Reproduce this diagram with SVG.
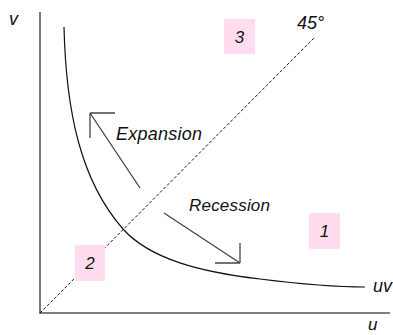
<svg xmlns="http://www.w3.org/2000/svg" width="393" height="335" viewBox="0 0 393 335">
<style>
text{font-family:"Liberation Sans",Arial,sans-serif;font-style:italic;fill:#111;}
.lbl{font-size:17px;}
.num{font-size:17px;text-anchor:middle;}
.box{fill:#FFDDEE;}
.axis{stroke:#555;stroke-width:1.6;fill:none;}
.arr{stroke:#444;stroke-width:1.3;fill:none;}
</style>
<rect width="393" height="335" fill="#fff"/>
<g id="axes">
<line class="axis" x1="40" y1="12" x2="40" y2="313"/>
<line class="axis" x1="39.2" y1="313" x2="390" y2="313"/>
<text class="lbl" x="9" y="25" style="font-size:18px">v</text>
<text class="lbl" x="368" y="330">u</text>
</g>
<g id="diagonal">
<line x1="40" y1="313" x2="315" y2="37" stroke="#111" stroke-width="1" stroke-dasharray="3,2"/>
<text class="lbl" x="297" y="29" style="font-size:18px">45°</text>
</g>
<g id="curve">
<path d="M64,27 C66,110 80,180 123,229 C150,259 200,272 260,279 C300,284 330,287 365,287" fill="none" stroke="#111" stroke-width="1.2"/>
<text class="lbl" x="373" y="292" style="font-size:18px">uv</text>
</g>
<g id="region3">
<rect class="box" x="224" y="19" width="31" height="35"/>
<text class="num" x="239.5" y="43">3</text>
</g>
<g id="region2">
<rect class="box" x="75" y="245" width="30" height="36"/>
<text class="num" x="90" y="269">2</text>
</g>
<g id="region1">
<rect class="box" x="309" y="213" width="31" height="36"/>
<text class="num" x="324.5" y="237">1</text>
</g>
<g id="connectors">
<path class="arr" d="M140,188 L90,113 M90,113 L115,113 M90,113 L90,138"/>
<path class="arr" d="M164,213 L240,263 M240,263 L240,243 M240,263 L215,263"/>
</g>
<g id="labels">
<text class="lbl" x="116" y="140" style="font-size:18px" textLength="86">Expansion</text>
<text class="lbl" x="189" y="211" textLength="81">Recession</text>
</g>
</svg>
